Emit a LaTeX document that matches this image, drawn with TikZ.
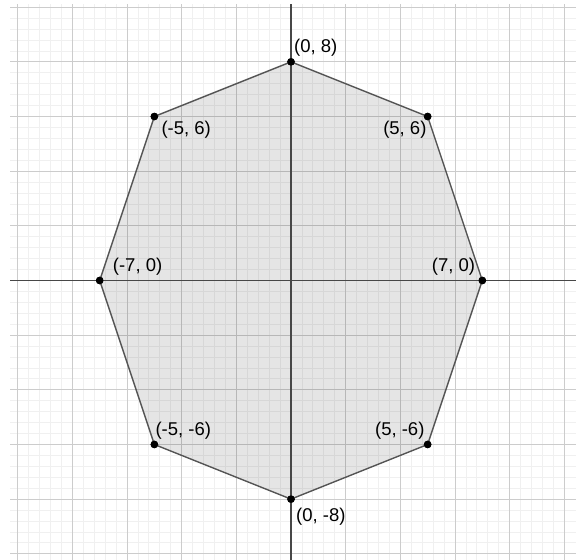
\documentclass[tikz,border=0pt]{standalone}
\usepackage{fontspec}
\setmainfont{Liberation Sans}
\begin{document}
\begin{tikzpicture}[x=27.33pt,y=27.33pt,
  minorgrid/.style={draw=black!6,line width=0.8pt},
  majorgrid/.style={draw=black!20,line width=0.9pt},
  axisline/.style={draw=black!72,line width=1.1pt},
  polyedge/.style={draw=black!67,line width=1.4pt},
  vdot/.style={circle,fill=black,inner sep=0pt,minimum size=7.5pt},
  lbl/.style={font=\fontsize{18.5}{21}\selectfont,inner sep=0pt,text=black}]
\useasboundingbox (-10.648,-10.227) rectangle (10.428,10.263);
% minor grid
\foreach \i in {-25,...,25}{
  \draw[minorgrid] (\i*0.4,-10.227) -- (\i*0.4,10.13);
  \draw[minorgrid] (-10.28,\i*0.4) -- (10.428,\i*0.4);
}
% major grid
\foreach \i in {-10,-8,...,10}{
  \draw[majorgrid] (\i,-10.227) -- (\i,10.13);
  \draw[majorgrid] (-10.28,\i) -- (10.428,\i);
}
% vertices
\node[vdot] (A) at (0,8) {};
\node[vdot] (B) at (5,6) {};
\node[vdot] (C) at (7,0) {};
\node[vdot] (D) at (5,-6) {};
\node[vdot] (E) at (0,-8) {};
\node[vdot] (F) at (-5,-6) {};
\node[vdot] (G) at (-7,0) {};
\node[vdot] (H) at (-5,6) {};
% polygon fill
\fill[black,fill opacity=0.1] (A.center) -- (B.center) -- (C.center) -- (D.center) -- (E.center) -- (F.center) -- (G.center) -- (H.center) -- cycle;
% axes
\coordinate (xl) at (-10.28,0);
\coordinate (xr) at (10.428,0);
\coordinate (yt) at (0,10.13);
\coordinate (yb) at (0,-10.227);
\draw[axisline] (xl) -- (xr);
\draw[axisline] (yb) -- (yt);
% edges
\draw[polyedge] (A.center) -- (B.center) -- (C.center) -- (D.center) -- (E.center) -- (F.center) -- (G.center) -- (H.center) -- cycle;
% dots on top
\foreach \p in {A,B,C,D,E,F,G,H}{\fill[black] (\p.center) circle (3.8pt);}
% labels
\node[lbl,anchor=south west] (lA) at ([xshift=3pt,yshift=5pt]A.center) {(0, 8)};
\node[lbl,anchor=north east] (lB) at ([xshift=-1pt,yshift=-4pt]B.center) {(5, 6)};
\node[lbl,anchor=south east] (lC) at ([xshift=-7pt,yshift=5pt]C.center) {(7, 0)};
\node[lbl,anchor=south east] (lD) at ([xshift=-3pt,yshift=5pt]D.center) {(5, -6)};
\node[lbl,anchor=north west] (lE) at ([xshift=5pt,yshift=-9pt]E.center) {(0, -8)};
\node[lbl,anchor=south west] (lF) at ([xshift=1pt,yshift=5pt]F.center) {(-5, -6)};
\node[lbl,anchor=south west] (lG) at ([xshift=13pt,yshift=5pt]G.center) {(-7, 0)};
\node[lbl,anchor=north west] (lH) at ([xshift=7pt,yshift=-4pt]H.center) {(-5, 6)};
\end{tikzpicture}
\end{document}
